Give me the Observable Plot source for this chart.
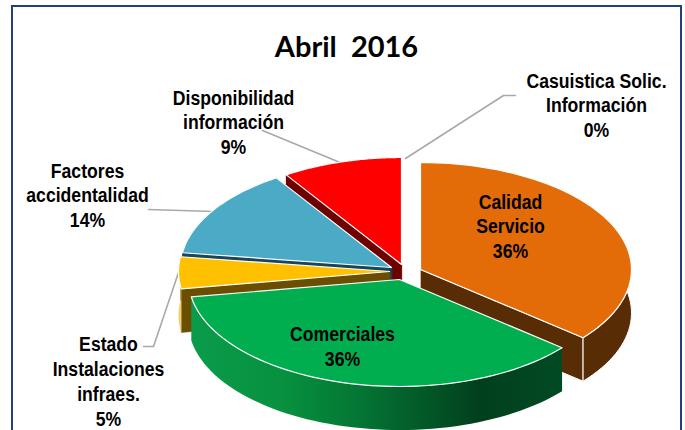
<!DOCTYPE html>
<html>
<head>
<meta charset="utf-8">
<script src="https://cdn.jsdelivr.net/npm/d3@7"></script>
<script src="https://cdn.jsdelivr.net/npm/@observablehq/plot@0.6"></script>
<style>
  html, body { margin: 0; padding: 0; background: #fff; overflow: hidden; }
  #frame { position: absolute; left: 11px; top: 5px; width: 667px; height: 430px; border: 2px solid #1f3f7f; box-sizing: content-box; }
  #chart { position: absolute; left: 0; top: 0; }
</style>
</head>
<body>
<div id="frame"></div>
<div id="chart"></div>
<script>
// Data
const categories = ["Calidad\nServicio", "Comerciales", "Estado\nInstalaciones\ninfraes.", "Factores\naccidentalidad", "Disponibilidad\ninformación", "Casuistica Solic.\nInformación"];
const values = [36.0, 36.4, 4.8, 13.6, 9.2, 0];
const chartTitle = "Abril  2016";

// Styles
const topColors = ["#e36c09", "#00ae50", "#ffc000", "#4baac5", "#ff0000", "#a5a5a5"];
const faceColors = ["#582d05", "#00ae50", "#6b4f00", "#17455a", "#6e0000", "#a5a5a5"];
const rimColors = ["#582d05", "url(#greenRim)", "#f3cf6a", "#17455a", "#6e0000", "#a5a5a5"];

// Layout
const rx = 211, ry = 107, depth = 43.5;
const centres = [[420, 269], [399, 279], [389, 271], [391, 267], [401, 264], [401, 264]];
const labelAt = [[510, 225], [342, 345], [108, 380], [87, 194], [233, 121], [596, 104]];
const leaders = [
  [[262, 130], [342, 163]],
  [[148, 209], [213, 211]],
  [[405, 158], [503, 95], [515, 95]],
  [[143, 346], [153, 346], [178, 272]]
];
const paintOrder = [4, 3, 2, 0, 1];
const narrow = 0.84;

const arcs = d3.pie().sort(null).value(d => d)(values);

function rimPoint(i, a, dz = 0) {
  const [cx, cy] = centres[i];
  return {x: cx + rx * Math.sin(a), y: cy - ry * Math.cos(a) + dz};
}
function arcPoints(i, dz = 0) {
  const {startAngle: a0, endAngle: a1} = arcs[i];
  return d3.range(0, 61).map(k => rimPoint(i, a0 + (a1 - a0) * k / 60, dz));
}
function apex(i, dz = 0) { return {x: centres[i][0], y: centres[i][1] + dz}; }

const poly = (pts, fill, stroke = "white", strokeWidth = 1.2) =>
  Plot.line(pts, {x: "x", y: "y", curve: "linear-closed", fill, stroke, strokeWidth, strokeLinejoin: "round"});

const wedgeMarks = paintOrder.flatMap(i => {
  const a0 = arcs[i].startAngle, a1 = arcs[i].endAngle;
  const face = a => [apex(i), rimPoint(i, a), rimPoint(i, a, depth), apex(i, depth)];
  const rim = [...arcPoints(i), ...arcPoints(i, depth).reverse()];
  const marks = [];
  if (i !== 1) {
    marks.push(poly(face(a0), faceColors[i], faceColors[i], 0.5));
    marks.push(poly(face(a1), faceColors[i], i === 0 ? "white" : faceColors[i], i === 0 ? 1 : 0.5));
  }
  marks.push(poly(rim, rimColors[i], i === 0 ? "white" : "none", 1));
  marks.push(poly([apex(i), ...arcPoints(i)], topColors[i]));
  return marks;
});

const labelRows = categories.map((c, i) => ({
  text: (c + "\n" + Math.round(values[i]) + "%"),
  x: labelAt[i][0], y: labelAt[i][1]
}));

const chart = Plot.plot({
  width: 685, height: 430,
  margin: 0,
  x: {domain: [0, 685], range: [0, 685], axis: null},
  y: {domain: [0, 430], range: [0, 430], axis: null},
  style: {background: "transparent"},
  marks: [
    ...leaders.map(l => Plot.line(l.map(([x, y]) => ({x, y})), {x: "x", y: "y", stroke: "#a9a9a9", strokeWidth: 1.6})),
    ...wedgeMarks,
    Plot.text(labelRows, {
      x: "x", y: "y", text: "text",
      fontFamily: "'Liberation Sans', sans-serif",
      fontWeight: "bold", fontSize: 21, lineHeight: 1.18, fill: "#000", textAnchor: "middle",
      className: "slice-label"
    }),
    Plot.text([chartTitle], {
      x: () => 346, y: () => 47, text: d => d,
      fontFamily: "Lato, sans-serif", fontWeight: "bold", fontSize: 29, fill: "#000",
      textAnchor: "middle", style: {whiteSpace: "pre"}
    })
  ]
});

const defs = d3.select(chart).append("defs");
const g = defs.append("linearGradient").attr("id", "greenRim").attr("x1", 0).attr("x2", 1).attr("y1", 0).attr("y2", 0);
[[0, "#0a9c4b"], [0.25, "#07903f"], [0.45, "#047634"], [0.78, "#013f1d"], [1, "#024a24"]]
  .forEach(([o, c]) => g.append("stop").attr("offset", o).attr("stop-color", c));

// Arial-Narrow look: squeeze the slice labels horizontally around their anchor.
d3.select(chart).selectAll("g.slice-label text").attr("transform", function () {
  return (this.getAttribute("transform") || "") + ` scale(${narrow},1)`;
});

document.getElementById("chart").appendChild(chart);
</script>
</body>
</html>
